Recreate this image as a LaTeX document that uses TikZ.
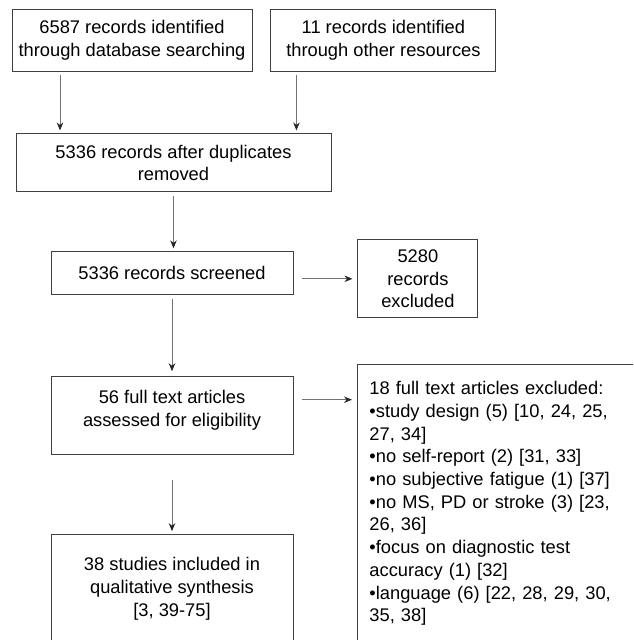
\documentclass[tikz,border=0pt]{standalone}
\usepackage{fontspec}
\setmainfont{Liberation Sans}
\usepackage{tikz}
\usetikzlibrary{positioning, arrows.meta}

\begin{document}
\begin{tikzpicture}
	[x=1pt, y=-1pt,
	 bx/.style={draw=black!75, line width=0.9pt, rectangle, align=center, inner sep=2pt,
	                    font=\fontsize{18.3}{22.7}\selectfont},
	 ar/.style={draw=black!55, line width=0.8pt, -{Stealth[length=8pt, width=6.5pt, black!85]},
	                    shorten <=4pt, shorten >=3pt}]
	\clip (0,0) rectangle (633,640);
	\node[bx, minimum width=240pt, minimum height=62pt] (a) at (132,40) {6587 records identified\\through database searching};
	\node[bx, minimum width=225pt, minimum height=62pt, right=18pt of a] (b) {11 records identified\\through other resources};
	\node[bx, minimum width=315pt, minimum height=58pt, below=62pt of a, xshift=41.5pt] (c) {5336 records after duplicates\\removed};
	\node[bx, minimum width=242pt, minimum height=43pt, below=59pt of c, xshift=-1.5pt] (d) {5336 records screened};
	\node[bx, minimum width=120pt, minimum height=78pt, right=64pt of d, yshift=-5.5pt] (e) {5280\\records\\excluded};
	\node[bx, minimum width=242pt, minimum height=78pt, below=81pt of d, text depth=15pt] (f) {56 full text articles\\assessed for eligibility};
	\node[bx, minimum width=242pt, minimum height=108pt, below=79pt of f] (h) {38 studies included in\\qualitative synthesis\\{[3, 39-75]}};
	\node[bx, anchor=north west, align=left, text width=290pt, inner xsep=12pt, inner ysep=17pt,
	      text depth=260pt] (g) at (357,364) {18 full text articles excluded:\\•study design (5) [10, 24, 25,\\27, 34]\\•no self-report (2) [31, 33]\\•no subjective fatigue (1) [37]\\•no MS, PD or stroke (3) [23,\\26, 36]\\•focus on diagnostic test\\accuracy (1) [32]\\•language (6) [22, 28, 29, 30,\\35, 38]};

	\draw[ar] ([xshift=-72pt]a.south) -- ([xshift=-72pt]a.south |- c.north);
	\draw[ar] ([xshift=26pt]b.south west) -- ([xshift=26pt]b.south west |- c.north);
	\draw[ar] (c.south) -- (c.south |- d.north);
	\draw[ar, shorten <=9pt, shorten >=5pt] (d.east |- e.west) -- (e.west);
	\draw[ar, shorten >=5pt] (d.south) -- (f.north);
	\draw[ar, shorten <=9pt, shorten >=5pt] ([yshift=16pt]f.east) -- ([yshift=16pt]f.east -| g.west);
	\draw[ar, shorten <=25pt] (f.south) -- (h.north);
\end{tikzpicture}
\end{document}
